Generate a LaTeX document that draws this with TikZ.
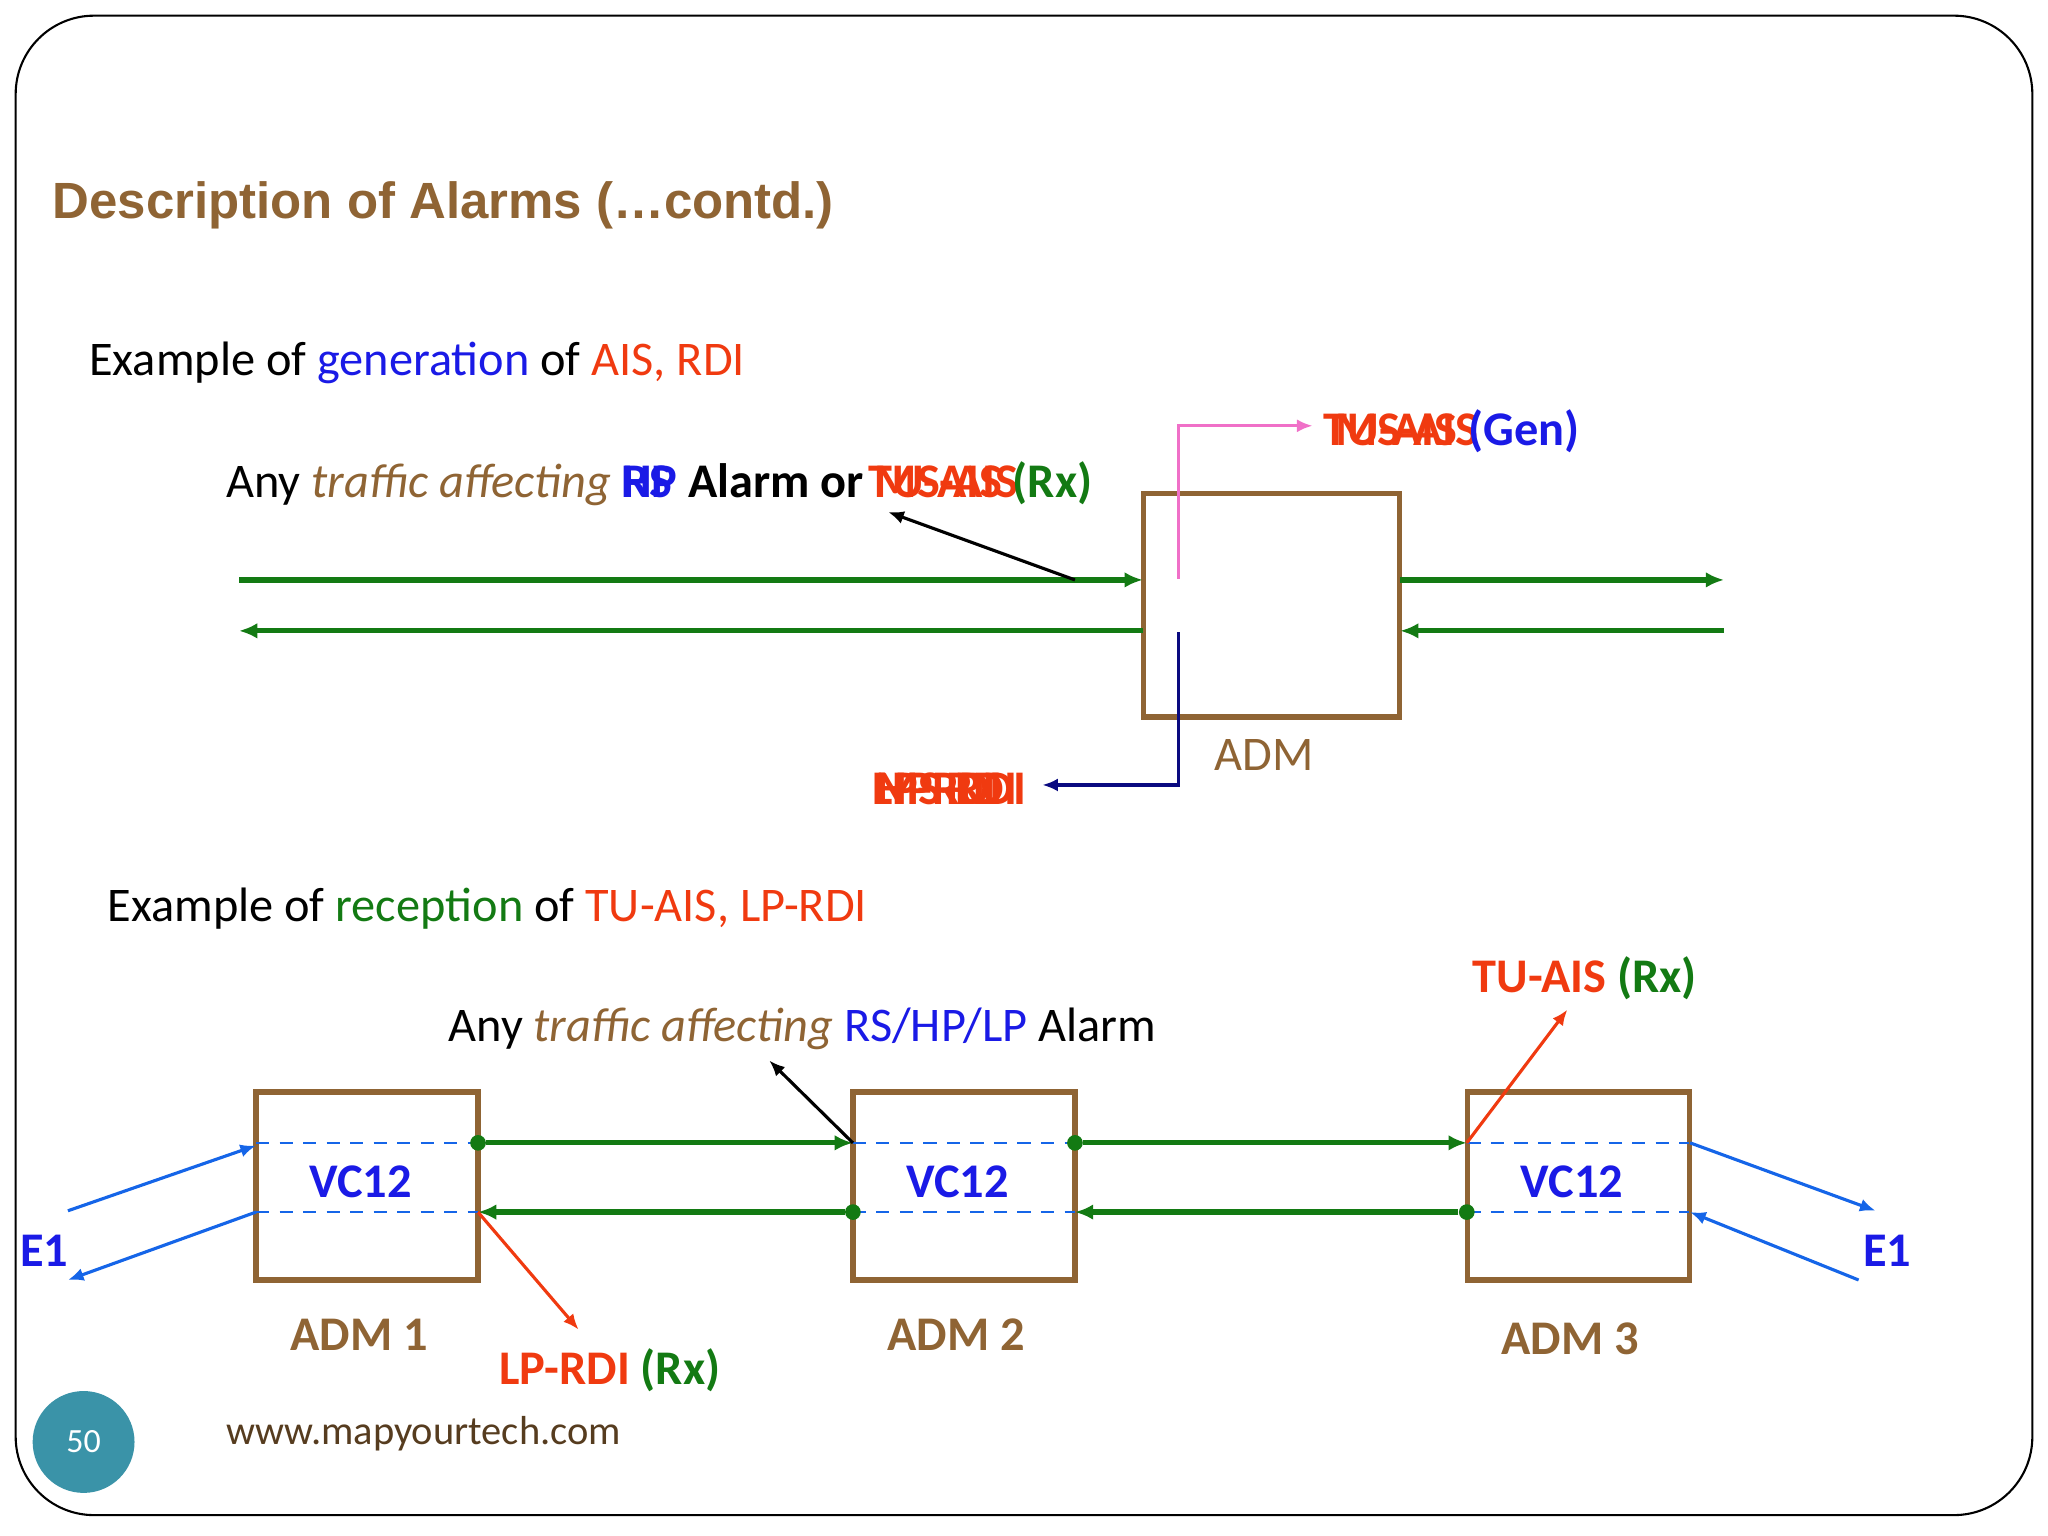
\documentclass[tikz,border=0pt]{standalone}
\usepackage{fontspec}
\setmainfont{Carlito}
\newfontfamily\ttl{Liberation Sans}
\usetikzlibrary{arrows.meta}
\definecolor{brn}{HTML}{8F6434}
\definecolor{grn}{HTML}{137A13}
\definecolor{rd}{HTML}{F03A10}
\definecolor{bl}{HTML}{1A1AE6}
\definecolor{lbl}{HTML}{1565E8}
\definecolor{pnk}{HTML}{F070C8}
\definecolor{nvy}{HTML}{0A0A80}
\definecolor{teal}{HTML}{3A93A8}
\begin{document}
\begin{tikzpicture}[x=0.5pt,y=-0.5pt,
  box/.style={draw=brn,line width=2pt},
  gl/.style={draw=grn,line width=2pt,-{Latex[length=7pt,width=6pt]}},
  dl/.style={draw=lbl,line width=1pt,dash pattern=on 5pt off 4pt},
  ar/.style={line width=1.2pt,-{Latex[length=6pt,width=5pt]}},
  dot/.style={circle,fill=grn,inner sep=0pt,minimum size=6pt},
  t/.style={font=\fontsize{18.5}{22}\selectfont,inner sep=0pt},
  lb/.style={font=\fontsize{18.5}{22}\selectfont\bfseries,inner sep=0pt}]
\useasboundingbox (0,0) rectangle (1568,1176);
\draw[line width=0.8pt,rounded corners=30pt] (12,12) rectangle (1556,1160);
\node[anchor=west,inner sep=0pt,text=brn,font=\ttl\fontsize{19.5}{23}\selectfont\bfseries] (title) at (40,157) {Description of Alarms (…contd.)};
\node[t,anchor=west] (ex1) at (68,278) {Example of \textcolor{bl}{generation} of \textcolor{rd}{AIS, RDI}};
% top ADM
\node[box,minimum width=98pt,minimum height=85.5pt,inner sep=0pt] (adm) at (973.5,463.5) {};
\node[t,text=brn] (admL) at (968,578) {ADM};
\coordinate (g1a) at (183,444); \coordinate (g1b) at (875,444);
\coordinate (g2a) at (1072,444); \coordinate (g2b) at (1320,444);
\coordinate (g3a) at (875,483); \coordinate (g3b) at (183,483);
\coordinate (g4a) at (1320,483); \coordinate (g4b) at (1072,483);
\draw[gl] (g1a) -- (g1b); \draw[gl] (g2a) -- (g2b);
\draw[gl] (g3a) -- (g3b); \draw[gl] (g4a) -- (g4b);
\coordinate (p0) at (902,443); \coordinate (p1) at (1005,326);
\draw[pnk,ar] (p0) |- (p1);
\coordinate (n0) at (902,484); \coordinate (n1) at (798,601);
\draw[nvy,ar] (n0) |- (n1);
\coordinate (k0) at (823,444); \coordinate (k1) at (680,392);
\draw[black,ar] (k0) -- (k1);
\node[t,anchor=west] (any1) at (173,370) {Any \textcolor{brn}{\itshape traffic affecting} \textbf{\textcolor{bl}{RS}\hspace{-1.05em}\textcolor{bl}{HP} Alarm or \textcolor{rd}{MS-AIS}\hspace{-3.1em}\textcolor{rd}{TU-AIS} \textcolor{grn}{(Rx)}}};
\node[lb,anchor=west] (gen) at (1022,330) {\textcolor{rd}{MS-AIS}\hspace{-3.2em}\textcolor{rd}{TU-AIS} \textcolor{bl}{(Gen)}};
\node[lb,anchor=east,text=rd] (rdi) at (768,604) {MS-RDI\hspace{-3.1em}HP-RDI\hspace{-3.0em}LP-RDI};
% bottom
\node[t,anchor=west] (ex2) at (82,696) {Example of \textcolor{grn}{reception} of \textcolor{rd}{TU-AIS, LP-RDI}};
\node[t,anchor=west] (any2) at (343,788) {Any \textcolor{brn}{\itshape traffic affecting} \textcolor{bl}{RS/HP/LP} Alarm};
\foreach \n/\x in {1/281,2/738,3/1208.5}{
  \node[box,minimum width=85pt,minimum height=72pt,inner sep=0pt] (b\n) at (\x,908) {};
  \draw[dl] (\x-85,875) -- (\x+85,875);
  \draw[dl] (\x-85,928) -- (\x+85,928);
  \node[lb,text=bl] (vc\n) at (\x-5,905) {VC12};
}
\node[lb,text=brn] (a1) at (275,1022) {ADM 1};
\node[lb,text=brn] (a2) at (732,1022) {ADM 2};
\node[lb,text=brn] (a3) at (1202,1025) {ADM 3};
\node[dot] (d1) at (366,875) {}; \node[dot] (d2) at (823,875) {};
\node[dot] (d3) at (653,928) {}; \node[dot] (d4) at (1123,928) {};
\coordinate (e2) at (653,875); \coordinate (e3) at (1123,875);
\coordinate (e1) at (366,928); \coordinate (e4) at (823,928);
\draw[gl] (d1) -- (e2); \draw[gl] (d2) -- (e3);
\draw[gl] (d3) -- (e1); \draw[gl] (d4) -- (e4);
\coordinate (k2) at (589,812); \draw[black,ar] (e2) -- (k2);
\coordinate (r1) at (1200,773); \draw[rd,ar] (e3) -- (r1);
\coordinate (r2) at (443,1018); \draw[rd,ar] (e1) -- (r2);
\node[lb,anchor=west] (tuais) at (1127,749) {\textcolor{rd}{TU-AIS} \textcolor{grn}{(Rx)}};
\node[lb,anchor=west] (lprdi) at (382,1049) {\textcolor{rd}{LP-RDI} \textcolor{grn}{(Rx)}};
\coordinate (l1) at (52,927); \coordinate (l2) at (196,877);
\coordinate (l3) at (196,928); \coordinate (l4) at (52,980);
\draw[lbl,ar] (l1) -- (l2); \draw[lbl,ar] (l3) -- (l4);
\coordinate (m1) at (1294,875); \coordinate (m2) at (1436,927);
\coordinate (m3) at (1423,980); \coordinate (m4) at (1294,928);
\draw[lbl,ar] (m1) -- (m2); \draw[lbl,ar] (m3) -- (m4);
\node[lb,text=bl] (E1a) at (34,958) {E1};
\node[lb,text=bl] (E1b) at (1445,958) {E1};
\node[circle,fill=teal,minimum size=39pt,inner sep=0pt,text=white,font=\fontsize{13}{15}\selectfont] (pg) at (64,1104) {50};
\node[anchor=west,inner sep=0pt,text=brn!60!black,font=\fontsize{15.5}{18}\selectfont] (url) at (173,1098) {www.mapyourtech.com};
\end{tikzpicture}
\end{document}
